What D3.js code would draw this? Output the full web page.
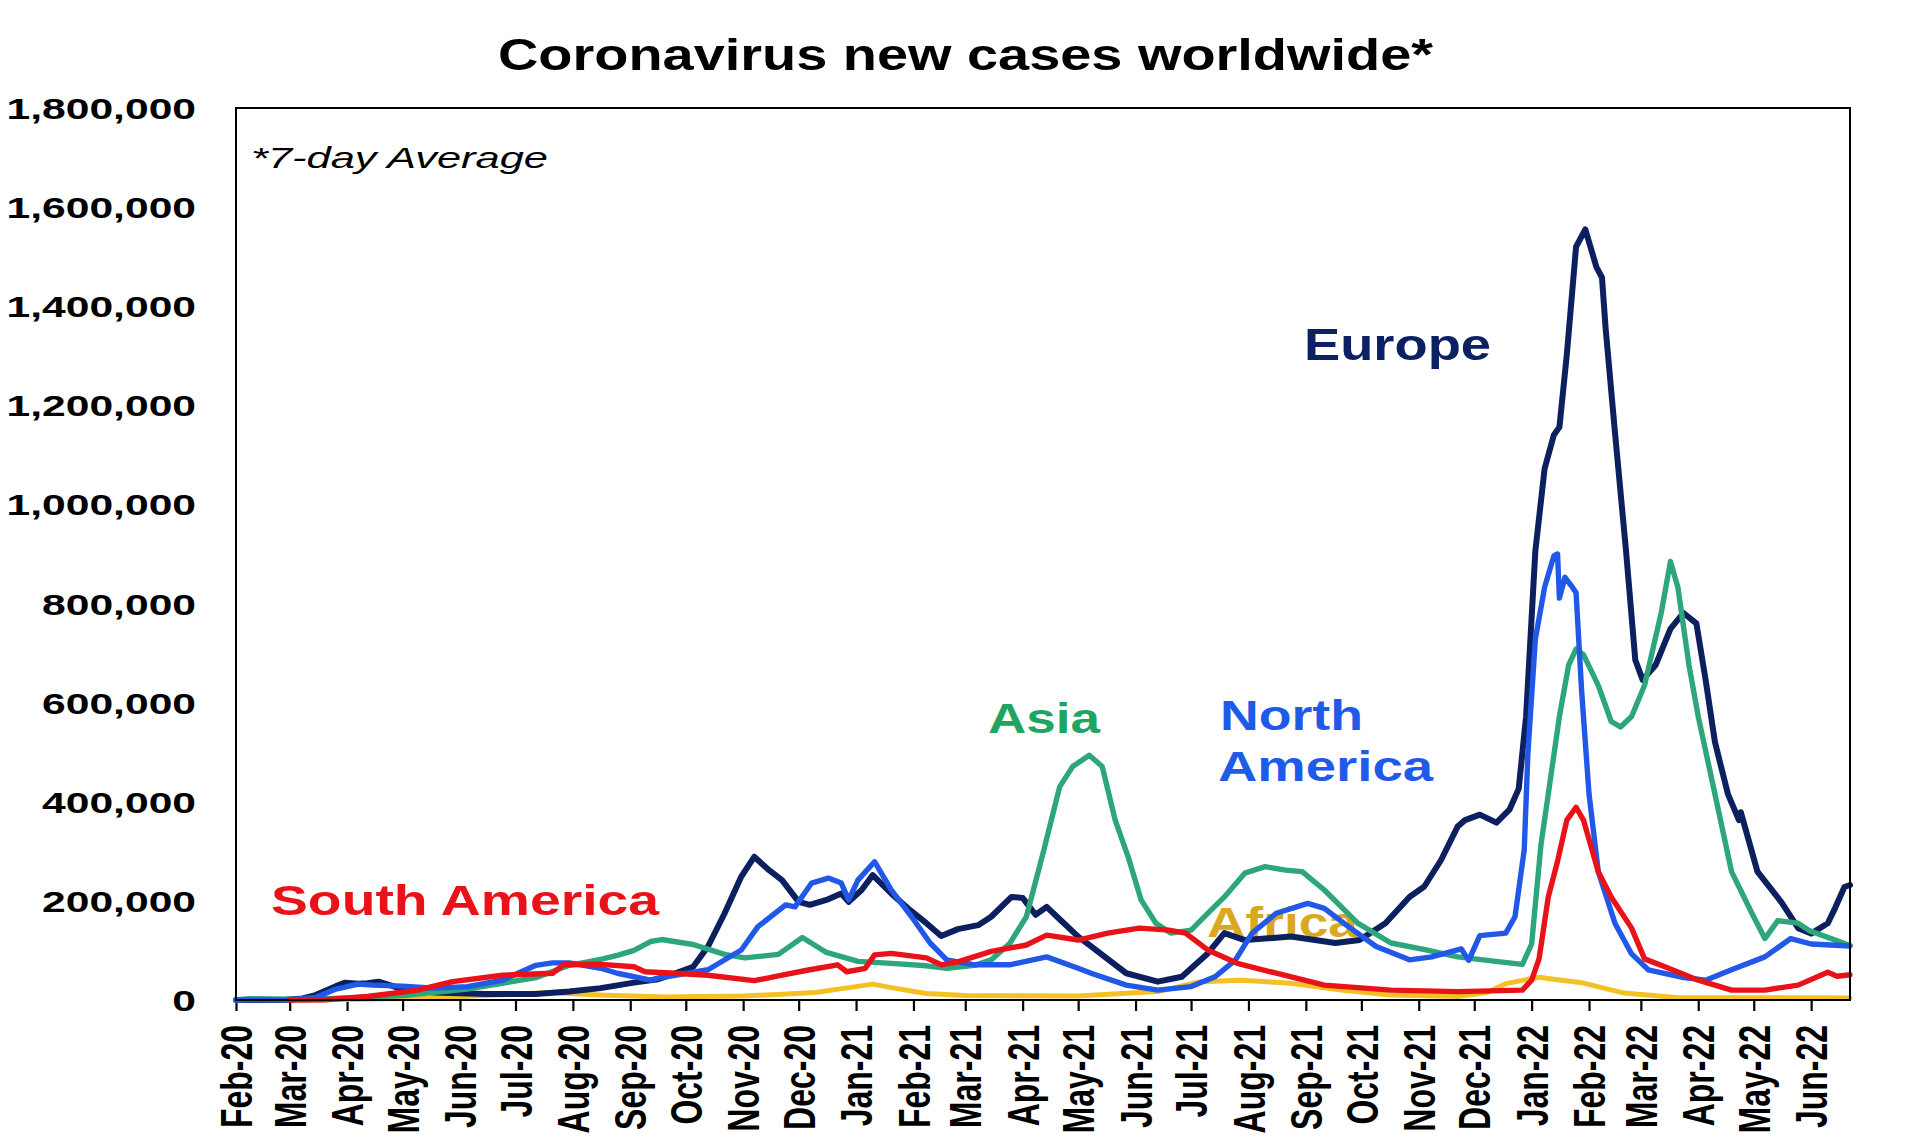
<!DOCTYPE html>
<html><head><meta charset="utf-8">
<script src="https://cdn.jsdelivr.net/npm/d3@7"></script>
<style>body{margin:0;background:#fff} svg{display:block;font-family:"Liberation Sans",Arial,sans-serif}</style>
</head><body>
<svg id="c" width="1920" height="1143"></svg>
<script>
// ---- DATA (7-day average new cases) ----
const europe = [
["2020-02-01",0],["2020-02-28",500],["2020-03-08",3000],["2020-03-15",10000],["2020-03-26",28000],["2020-03-31",35000],
["2020-04-07",33000],["2020-04-12",34000],["2020-04-18",37000],["2020-05-01",22000],["2020-05-18",15000],["2020-06-15",12000],
["2020-07-12",12000],["2020-07-30",17000],["2020-08-16",24000],["2020-09-03",35000],["2020-09-16",42000],["2020-09-21",48000],
["2020-10-05",67000],["2020-10-13",108000],["2020-10-22",175000],["2020-10-31",249000],["2020-11-07",289000],["2020-11-15",262000],
["2020-11-22",242000],["2020-12-01",198000],["2020-12-07",192000],["2020-12-16",202000],["2020-12-24",215000],["2020-12-28",198000],
["2021-01-04",222000],["2021-01-10",252000],["2021-01-20",215000],["2021-01-29",185000],["2021-02-08",155000],["2021-02-16",129000],
["2021-02-25",143000],["2021-03-08",151000],["2021-03-15",168000],["2021-03-26",208000],["2021-04-01",206000],["2021-04-08",172000],
["2021-04-14",188000],["2021-04-21",163000],["2021-05-01",128000],["2021-05-08",108000],["2021-05-27",54000],["2021-06-13",37000],
["2021-06-26",47000],["2021-07-10",94000],["2021-07-19",135000],["2021-07-30",121000],["2021-08-24",128000],["2021-09-17",115000],
["2021-09-30",121000],["2021-10-14",155000],["2021-10-27",208000],["2021-11-04",229000],["2021-11-13",282000],["2021-11-22",350000],
["2021-11-26",363000],["2021-12-04",374000],["2021-12-13",358000],["2021-12-20",384000],["2021-12-25",426000],["2021-12-29",572000],
["2022-01-03",906000],["2022-01-08",1072000],["2022-01-13",1140000],["2022-01-16",1156000],["2022-01-20",1302000],["2022-01-25",1520000],
["2022-01-30",1555000],["2022-02-05",1479000],["2022-02-08",1458000],["2022-02-10",1354000],["2022-02-15",1146000],["2022-02-21",906000],
["2022-02-26",686000],["2022-03-02",646000],["2022-03-09",676000],["2022-03-17",749000],["2022-03-24",781000],["2022-03-31",760000],
["2022-04-05",646000],["2022-04-10",521000],["2022-04-17",416000],["2022-04-23",363000],["2022-04-24",379000],["2022-05-03",259000],
["2022-05-16",197000],["2022-05-25",145000],["2022-06-01",134000],["2022-06-10",155000],["2022-06-14",186000],["2022-06-19",228000],
["2022-06-22",232000]];

const northAmerica = [
["2020-02-01",0],["2020-03-01",500],["2020-03-15",5000],["2020-03-26",22000],["2020-04-07",32000],["2020-04-15",30000],
["2020-05-01",28000],["2020-05-18",24000],["2020-06-05",27000],["2020-06-24",40000],["2020-07-12",70000],["2020-07-21",75000],
["2020-07-30",75000],["2020-08-16",64000],["2020-08-25",54000],["2020-09-12",40000],["2020-09-16",44000],["2020-10-13",61000],
["2020-10-31",101000],["2020-11-09",148000],["2020-11-24",192000],["2020-11-29",188000],["2020-12-08",236000],["2020-12-17",246000],
["2020-12-24",236000],["2020-12-28",202000],["2021-01-02",242000],["2021-01-11",279000],["2021-01-20",222000],["2021-01-31",168000],
["2021-02-10",115000],["2021-02-19",81000],["2021-03-06",71000],["2021-03-25",71000],["2021-04-14",87000],["2021-05-01",64000],
["2021-05-08",54000],["2021-05-27",30000],["2021-06-13",20000],["2021-07-01",27000],["2021-07-14",47000],["2021-07-25",81000],
["2021-08-03",135000],["2021-08-16",175000],["2021-09-02",195000],["2021-09-11",185000],["2021-09-24",148000],["2021-10-09",108000],
["2021-10-27",81000],["2021-11-08",87000],["2021-11-24",103000],["2021-11-28",80000],["2021-12-04",130000],["2021-12-18",135000],
["2021-12-23",168000],["2021-12-28",303000],["2021-12-30",500000],["2022-01-03",728000],["2022-01-08",833000],["2022-01-13",896000],
["2022-01-15",900000],["2022-01-16",811000],["2022-01-19",853000],["2022-01-23",833000],["2022-01-25",822000],["2022-01-28",624000],
["2022-02-01",416000],["2022-02-06",259000],["2022-02-15",155000],["2022-02-24",93000],["2022-03-05",61000],["2022-03-23",46000],
["2022-04-05",40000],["2022-04-19",61000],["2022-05-07",87000],["2022-05-21",124000],["2022-06-01",113000],["2022-06-22",109000]];

const asia = [
["2020-02-01",0],["2020-02-08",2500],["2020-02-20",2000],["2020-03-10",1000],["2020-04-01",4000],["2020-05-01",9000],
["2020-06-05",22000],["2020-07-12",45000],["2020-07-30",70000],["2020-08-16",82000],["2020-08-25",90000],["2020-09-03",100000],
["2020-09-12",118000],["2020-09-18",122000],["2020-10-05",112000],["2020-10-22",92000],["2020-11-02",85000],["2020-11-20",92000],
["2020-12-03",126000],["2020-12-16",96000],["2021-01-02",78000],["2021-01-20",74000],["2021-02-08",69000],["2021-02-19",64000],
["2021-03-06",70000],["2021-03-15",81000],["2021-03-25",114000],["2021-04-03",168000],["2021-04-12",296000],["2021-04-21",430000],
["2021-04-28",471000],["2021-05-07",494000],["2021-05-14",471000],["2021-05-21",363000],["2021-05-28",289000],["2021-06-04",202000],
["2021-06-12",155000],["2021-06-20",135000],["2021-07-01",141000],["2021-07-10",175000],["2021-07-19",208000],["2021-07-30",256000],
["2021-08-10",269000],["2021-08-21",262000],["2021-08-30",259000],["2021-09-11",222000],["2021-09-29",155000],["2021-10-17",115000],
["2021-11-05",101000],["2021-11-22",87000],["2021-12-15",77000],["2021-12-27",72000],["2022-01-01",113000],["2022-01-06",312000],
["2022-01-12",468000],["2022-01-16",572000],["2022-01-21",676000],["2022-01-25",708000],["2022-01-29",697000],["2022-02-06",635000],
["2022-02-13",562000],["2022-02-18",551000],["2022-02-24",572000],["2022-03-03",635000],["2022-03-12",781000],["2022-03-17",885000],
["2022-03-21",833000],["2022-03-27",676000],["2022-04-01",572000],["2022-04-10",416000],["2022-04-19",259000],["2022-04-30",175000],
["2022-05-07",124000],["2022-05-14",160000],["2022-05-25",155000],["2022-05-31",140000],["2022-06-22",110000]];

const southAmerica = [
["2020-03-01",0],["2020-03-20",500],["2020-04-12",7000],["2020-05-09",20000],["2020-05-28",37000],["2020-06-24",50000],
["2020-07-21",54000],["2020-07-27",71000],["2020-08-16",72000],["2020-09-03",67000],["2020-09-09",57000],["2020-09-25",54000],
["2020-10-13",50000],["2020-11-07",39000],["2020-11-22",50000],["2020-12-07",61000],["2020-12-22",71000],["2020-12-27",57000],
["2021-01-06",64000],["2021-01-11",91000],["2021-01-20",94000],["2021-02-08",85000],["2021-02-16",71000],["2021-02-25",77000],
["2021-03-15",98000],["2021-04-03",111000],["2021-04-14",131000],["2021-05-01",121000],["2021-05-17",135000],["2021-06-03",145000],
["2021-06-19",141000],["2021-06-28",135000],["2021-07-10",101000],["2021-07-26",74000],["2021-08-16",54000],["2021-09-11",30000],
["2021-10-17",20000],["2021-11-22",17000],["2021-12-27",20000],["2022-01-01",40000],["2022-01-05",83000],["2022-01-10",208000],
["2022-01-15",280000],["2022-01-20",363000],["2022-01-25",389000],["2022-01-29",363000],["2022-02-06",259000],["2022-02-13",208000],
["2022-02-24",145000],["2022-03-03",83000],["2022-03-14",67000],["2022-04-01",40000],["2022-04-19",20000],["2022-05-07",20000],
["2022-05-25",30000],["2022-06-10",56000],["2022-06-15",48000],["2022-06-22",51000]];

const africa = [
["2020-02-01",0],["2020-04-01",1000],["2020-05-15",4000],["2020-06-15",9000],["2020-07-20",15000],["2020-08-15",10000],
["2020-09-20",6000],["2020-11-01",8000],["2020-12-10",15000],["2020-12-28",25000],["2021-01-10",32000],["2021-01-20",25000],
["2021-02-08",13000],["2021-03-01",9000],["2021-05-01",8000],["2021-06-13",17000],["2021-07-06",37000],["2021-07-28",40000],
["2021-08-24",34000],["2021-09-20",20000],["2021-10-17",10000],["2021-11-22",7000],["2021-12-08",15000],["2021-12-18",33000],
["2022-01-05",46000],["2022-01-13",42000],["2022-01-28",35000],["2022-02-20",14000],["2022-03-20",5000],["2022-06-22",4000]];

const yTicks = [0,200000,400000,600000,800000,1000000,1200000,1400000,1600000,1800000];
const title = "Coronavirus new cases worldwide*";
const note = "*7-day Average";

// ---- CHART ----
const svg = d3.select("#c");
const parse = d3.timeParse("%Y-%m-%d");
const L = 236, R = 1850, T = 108, B = 1000;
const x = d3.scaleTime().domain([parse("2020-02-01"), parse("2022-06-22")]).range([L, R]);
const y = d3.scaleLinear().domain([0, 1800000]).range([B, T]);

svg.append("rect").attr("width",1920).attr("height",1143).attr("fill","#fff");

// title
svg.append("text").attr("x",498).attr("y",70).text(title)
  .attr("font-size",44).attr("font-weight","bold").attr("fill","#000")
  .attr("textLength",935).attr("lengthAdjust","spacingAndGlyphs");

// note
svg.append("text").attr("x",251).attr("y",168).text(note)
  .attr("font-size",29).attr("font-style","italic").attr("fill","#000")
  .attr("textLength",297).attr("lengthAdjust","spacingAndGlyphs");

// y axis labels
const yAx = svg.append("g").attr("transform",`translate(${L},0)`)
  .call(d3.axisLeft(y).tickValues(yTicks).tickSize(0).tickFormat(d3.format(",")));
yAx.select(".domain").remove();
yAx.selectAll("text")
  .attr("x",0).attr("dy",null).attr("y",0)
  .attr("font-size",30).attr("font-weight","bold").attr("fill","#000")
  .attr("font-family",'"Liberation Sans",Arial,sans-serif')
  .attr("text-anchor","end")
  .attr("transform", "translate(-40,10.5) scale(1.42,1)");

// x axis
const months = d3.timeMonth.range(parse("2020-02-01"), parse("2022-06-22"));
const xAx = svg.append("g").attr("transform",`translate(0,${B})`)
  .call(d3.axisBottom(x).tickValues(months).tickSize(11).tickFormat(d3.timeFormat("%b-%y")));
xAx.select(".domain").remove();
xAx.selectAll(".tick line").attr("stroke","#000").attr("stroke-width",2.2);
xAx.selectAll("text")
  .attr("x",0).attr("y",0).attr("dy","0.36em")
  .attr("font-size",32).attr("font-weight","bold").attr("fill","#000")
  .attr("font-family",'"Liberation Sans",Arial,sans-serif')
  .attr("text-anchor","end")
  .attr("transform","translate(0,25) rotate(-90) scale(1,1.36)");

// Africa label sits behind the lines
const lbl = (t, px, py, w, col, fs) => svg.append("text").attr("x",px).attr("y",py).text(t)
  .attr("font-size",fs||42).attr("font-weight","bold").attr("fill",col)
  .attr("textLength",w).attr("lengthAdjust","spacingAndGlyphs");
lbl("Africa",1207,937,151,"#d9a720");

// lines
const line = d3.line().x(d => x(parse(d[0]))).y(d => y(d[1])).curve(d3.curveLinear);
const series = [
  {data: africa, color:"#f4c124", w:5},
  {data: europe, color:"#0c1f5e", w:6},
  {data: asia, color:"#2ca67a", w:5.4},
  {data: northAmerica, color:"#2158e8", w:5.4},
  {data: southAmerica, color:"#ea1219", w:5.4}
];
svg.append("g").selectAll("path").data(series).join("path")
  .attr("d", s => line(s.data)).attr("fill","none")
  .attr("stroke", s => s.color).attr("stroke-width", s => s.w)
  .attr("stroke-linejoin","round").attr("stroke-linecap","round");

// frame
svg.append("rect").attr("x",L).attr("y",T).attr("width",R-L).attr("height",B-T)
  .attr("fill","none").attr("stroke","#000").attr("stroke-width",2);

// series labels
lbl("Europe",1304,360,187,"#0c2163",44);
lbl("Asia",988,733,112,"#1fa562");
lbl("North",1220,730,143,"#1f5be8");
lbl("America",1218,781,215,"#1f5be8");
lbl("South America",271,915,388,"#ea1219");
</script>
</body></html>
